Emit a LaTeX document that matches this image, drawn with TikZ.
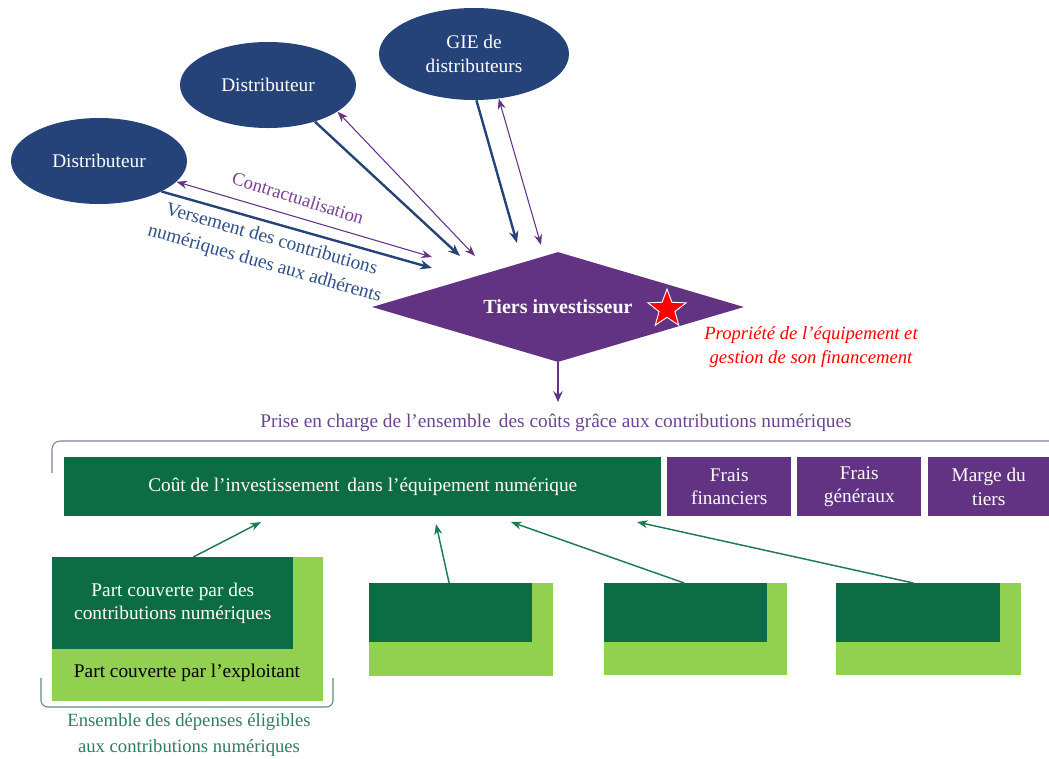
\documentclass[tikz,border=0pt]{standalone}
\usepackage{fontspec}
\setmainfont{Liberation Serif}
\usetikzlibrary{shapes.geometric,arrows.meta,calc}
\definecolor{navy}{HTML}{254379}
\definecolor{navytxt}{HTML}{2F4F8A}
\definecolor{purp}{HTML}{633383}
\definecolor{purptxt}{HTML}{6B4590}
\definecolor{contr}{HTML}{7A3F96}
\definecolor{dkgreen}{HTML}{0C6D45}
\definecolor{ltgreen}{HTML}{92D050}
\definecolor{grarrow}{HTML}{1E7A55}
\definecolor{grtxt}{HTML}{2E7D5B}
\definecolor{brkpurp}{HTML}{8E77A3}
\definecolor{brkgreen}{HTML}{5E8C74}
\begin{document}
\begin{tikzpicture}[x=0.75pt,y=-0.75pt,
  every node/.style={font=\fontsize{14.5}{17.5}\selectfont},
  ell/.style={ellipse, fill=navy, text=white, inner sep=0pt, align=center},
  blk/.style={anchor=north west, inner sep=0pt, align=center},
  navyarr/.style={navy, line width=1.8pt, -{Stealth[length=9pt,width=7pt]}},
  purparr/.style={purp, line width=0.8pt, {Stealth[length=8pt,width=6pt]}-{Stealth[length=8pt,width=6pt]}},
  grarr/.style={grarrow, line width=1.1pt, -{Stealth[length=8pt,width=6pt]}}
]
\useasboundingbox (0,0) rectangle (1049,758);

% ellipses
\node[ell, minimum width=176*0.75pt, minimum height=86*0.75pt] (d1) at (99,161) {Distributeur};
\node[ell, minimum width=176*0.75pt, minimum height=86*0.75pt] (d2) at (268,85) {Distributeur};
\node[ell, minimum width=190*0.75pt, minimum height=92*0.75pt, font=\fontsize{14.5}{18}\selectfont] (gie) at (474,54) {GIE de\\distributeurs};

% diamond
\node[diamond, fill=purp, text=white, aspect=3.4, inner sep=0pt,
      minimum width=372*0.75pt, minimum height=110*0.75pt, font=\fontsize{15}{18}\bfseries] (ti) at (558,307) {Tiers investisseur};
\node[star, star points=5, star point ratio=2.4, fill=red, draw=white, line width=0.7pt,
      minimum size=30pt, inner sep=0pt] (star) at (667,309) {};
\node[text=red, font=\fontsize{14}{18.5}\itshape, align=center] (prop) at (811,347) {Propriété de l’équipement et\\gestion de son financement};

% arrow end coordinates
\coordinate (e1n) at (432,268);
\coordinate (e1p) at (432,257);
\coordinate (e2n) at (460,256);
\coordinate (e2p) at (475,256);
\coordinate (e3n) at (517,243);
\coordinate (e3p) at (541,245);

\draw[navyarr] (d1.-26.6) -- (e1n);
\draw[purparr] (d1.-15) -- (e1p);
\draw[navyarr] (d2.-38.4) -- (e2n);
\draw[purparr] (d2.-21.7) -- (e2p);
\draw[navyarr] (gie.-87) -- (e3n);
\draw[purparr] (gie.-61.5) -- (e3p);

\node[text=contr, rotate=-17.5, font=\fontsize{14}{18}\selectfont] (contr) at (298,198) {Contractualisation};
\node[text=navytxt, rotate=-16, align=center, font=\fontsize{14.5}{19}\selectfont] (vers) at (268,252) {Versement des contributions\\numériques dues aux adhérents};

% down arrow
\coordinate (down) at (558,402);
\draw[purp, line width=1.4pt, -{Stealth[length=8pt,width=7pt]}] (ti.south) -- (down);
\node[text=purptxt] (prise) at (556,423) {Prise en charge de l’ensemble\, des coûts grâce aux contributions numériques};

% top bracket
\draw[brkpurp, line width=0.8pt, rounded corners=6pt] (52,473) -- (52,441) -- (1049,441);

% cost boxes
\node[blk, fill=dkgreen, text=white, minimum width=597*0.75pt, minimum height=59*0.75pt] (cout) at (64,457) {Coût de l’investissement\, dans l’équipement numérique};
\node[blk, fill=purp, text=white, minimum width=124*0.75pt, minimum height=59*0.75pt] (ff) at (667,457) {Frais\\financiers};
\node[blk, fill=purp, text=white, minimum width=124*0.75pt, minimum height=59*0.75pt] (fg) at (797,457) {Frais\\généraux};
\node[blk, fill=purp, text=white, minimum width=121*0.75pt, minimum height=59*0.75pt] (mt) at (928,457) {Marge du\\tiers};

% bottom boxes
\node[blk, fill=ltgreen, minimum width=271*0.75pt, minimum height=144*0.75pt] (l1) at (52,557) {};
\node[blk, fill=dkgreen, text=white, minimum width=241*0.75pt, minimum height=92*0.75pt] (p1) at (52,557) {Part couverte par des\\contributions numériques};
\node[text=black] (expl) at (187,673) {Part couverte par l’exploitant};

\node[blk, fill=ltgreen, minimum width=184*0.75pt, minimum height=93*0.75pt] (l2) at (369,583) {};
\node[blk, fill=dkgreen, minimum width=163*0.75pt, minimum height=59*0.75pt] (p2) at (369,583) {};
\node[blk, fill=ltgreen, minimum width=183*0.75pt, minimum height=92*0.75pt] (l3) at (604,583) {};
\node[blk, fill=dkgreen, minimum width=163*0.75pt, minimum height=59*0.75pt] (p3) at (604,583) {};
\node[blk, fill=ltgreen, minimum width=185*0.75pt, minimum height=92*0.75pt] (l4) at (836,583) {};
\node[blk, fill=dkgreen, minimum width=164*0.75pt, minimum height=59*0.75pt] (p4) at (836,583) {};

% green arrows
\coordinate (t1) at (261,522);
\coordinate (t2) at (436,524);
\coordinate (t3) at (511,522);
\coordinate (t4) at (637,522);
\draw[grarr] ($(p1.north west)!0.585!(p1.north east)$) -- (t1);
\draw[grarr] ($(p2.north west)!0.49!(p2.north east)$) -- (t2);
\draw[grarr] ($(p3.north west)!0.49!(p3.north east)$) -- (t3);
\draw[grarr] ($(p4.north west)!0.47!(p4.north east)$) -- (t4);

% bottom bracket
\draw[brkgreen, line width=0.8pt, rounded corners=5pt] (41,678) -- (41,707) -- (333,707) -- (333,678);
\node[text=grtxt, align=center, font=\fontsize{14}{19.5}\selectfont] (ens) at (189,735) {Ensemble des dépenses éligibles\\aux contributions numériques};
\end{tikzpicture}
\end{document}
